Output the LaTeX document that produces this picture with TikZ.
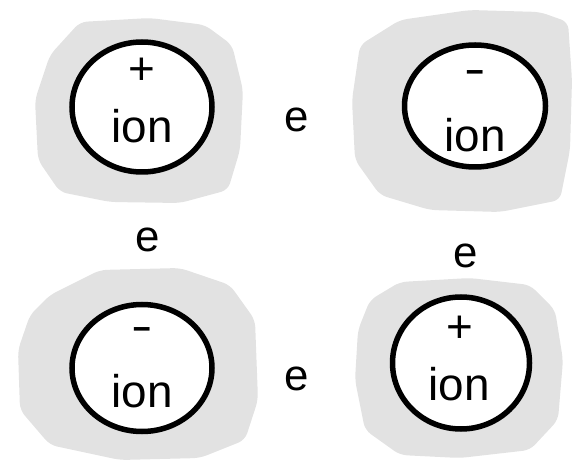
\documentclass[tikz,border=0pt]{standalone}
\usepackage{fontspec}
\setmainfont{Liberation Sans}
\usetikzlibrary{shapes.geometric}
\definecolor{blobgray}{RGB}{226,226,226}
\begin{document}
\begin{tikzpicture}[x=1bp,y=-1bp,
  blob/.style={fill=blobgray,draw=none,rounded corners=7bp},
  ioncirc/.style={ellipse,draw=black,line width=5.5bp,fill=white,inner sep=0pt},
  iontext/.style={inner sep=0pt,anchor=base,font=\fontsize{46}{50}\selectfont},
  signtext/.style={inner sep=0pt,anchor=center,font=\fontsize{46}{50}\selectfont},
  etext/.style={inner sep=0pt,anchor=base,font=\fontsize{44}{48}\selectfont}]
\useasboundingbox (0,0) rectangle (573,461);
% blobs
\fill[blob] (80,22) -- (150,18) -- (205,25) -- (232,45) -- (243,90) -- (240,150) -- (228,190) -- (180,203) -- (110,202) -- (60,192) -- (38,160) -- (35,100) -- (50,55) -- cycle;
\fill[blob] (360,45) -- (400,20) -- (470,10) -- (540,12) -- (568,22) -- (572,80) -- (570,150) -- (560,200) -- (500,212) -- (430,210) -- (380,195) -- (355,160) -- (352,100) -- cycle;
\fill[blob] (50,295) -- (100,270) -- (180,268) -- (230,285) -- (255,320) -- (258,400) -- (245,440) -- (200,458) -- (120,460) -- (50,445) -- (20,410) -- (18,350) -- (30,315) -- cycle;
\fill[blob] (370,300) -- (400,282) -- (470,278) -- (530,285) -- (555,310) -- (563,360) -- (558,420) -- (530,450) -- (460,458) -- (400,455) -- (365,430) -- (355,380) -- (358,330) -- cycle;
% circles
\node[ioncirc,minimum width=140bp,minimum height=130bp] (c1) at (142,107) {};
\node[ioncirc,minimum width=141bp,minimum height=122bp] (c2) at (475,106) {};
\node[ioncirc,minimum width=140bp,minimum height=127bp] (c3) at (142,368) {};
\node[ioncirc,minimum width=137bp,minimum height=132bp] (c4) at (461,363) {};
% signs
\node[signtext] (s1) at (142,71) {+};
\node[signtext,xscale=1.4] (s2) at (475,78) {-};
\node[signtext,xscale=1.4] (s3) at (142,335) {-};
\node[signtext] (s4) at (460,329) {+};
% ion labels
\node[iontext] (t1) at (142,143) {ion};
\node[iontext] (t2) at (475,152) {ion};
\node[iontext] (t3) at (142,407) {ion};
\node[iontext] (t4) at (459,400) {ion};
% electrons
\node[etext] (e1) at (297,132) {e};
\node[etext] (e2) at (148,252) {e};
\node[etext] (e3) at (466,268) {e};
\node[etext] (e4) at (297,390) {e};
\end{tikzpicture}
\end{document}
